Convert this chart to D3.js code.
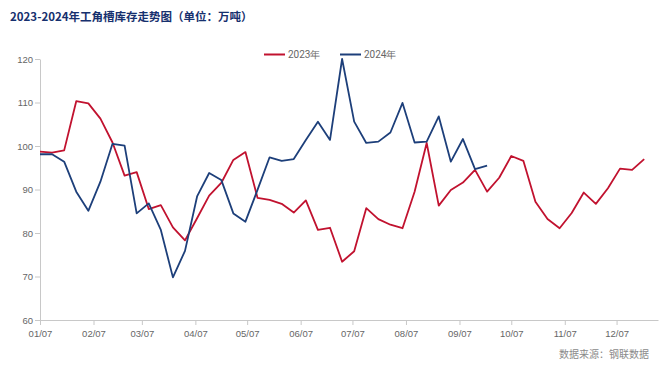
<!DOCTYPE html>
<html>
<head>
<meta charset="utf-8">
<script src="https://cdn.jsdelivr.net/npm/d3@7"></script>
<style>
  html, body { margin: 0; padding: 0; background: #fff; }
  svg { display: block; }
</style>
</head>
<body>
<div id="chart"></div>
<script>
// DATA
const seriesNames = ['2023年', '2024年'];
const firstWeek = '2023-01-07';
const lastDay = '2023-12-31';
const tickMonths = ['01/07', '02/07', '03/07', '04/07', '05/07', '06/07', '07/07', '08/07', '09/07', '10/07', '11/07', '12/07'];
const yTicks = [60, 70, 80, 90, 100, 110, 120];

const v2023 = [
  98.7, 98.5, 99.0, 110.3, 109.8, 106.3, 100.8, 93.2, 94.0, 85.5,
  86.4, 81.3, 78.3, 83.4, 88.6, 91.5, 96.8, 98.6, 88.1, 87.6,
  86.7, 84.7, 87.5, 80.7, 81.2, 73.4, 75.8, 85.7, 83.2, 81.9,
  81.1, 89.5, 100.7, 86.3, 89.9, 91.6, 94.5, 89.5, 92.7, 97.7,
  96.6, 87.2, 83.2, 81.1, 84.6, 89.3, 86.7, 90.3, 94.8, 94.5,
  97.0
];
const v2024 = [
  98.1, 98.1, 96.4, 89.5, 85.1, 91.8, 100.5, 100.1, 84.5, 86.8,
  80.7, 69.8, 75.9, 88.4, 93.8, 92.2, 84.5, 82.6, 89.9, 97.4,
  96.6, 97.0, 101.4, 105.6, 101.4, 120.0, 105.6, 100.7, 101.0, 103.1,
  109.9, 100.8, 101.0, 106.8, 96.4, 101.6, 94.7, 95.5
];

const colors = ['#c1122f', '#1d3f7a'];

const W = 660, H = 369;
const m = { top: 59, right: 2, bottom: 49, left: 40 };

const parse = d3.timeParse('%Y-%m-%d');
const t0 = parse(firstWeek);
const weekDate = (i) => d3.timeDay.offset(t0, i * 7);

const svg = d3.select('#chart').append('svg')
  .attr('width', W)
  .attr('height', H)
  .style('font-family', 'Roboto, "Liberation Sans", Arial, sans-serif');

// TITLE
svg.append('text')
  .attr('x', 10)
  .attr('y', 21)
  .attr('fill', '#16306e')
  .attr('font-size', 11.5)
  .attr('font-weight', 'bold')
  .style('font-family', '"Noto Sans CJK SC", sans-serif')
  .text('2023-2024年工角槽库存走势图（单位：万吨）');

// SCALES
const x = d3.scaleTime()
  .domain([t0, parse(lastDay)])
  .range([m.left, W - m.right]);

const y = d3.scaleLinear()
  .domain([60, 120])
  .range([H - m.bottom, m.top]);

const fmt = d3.timeFormat('%m/%d');
const tickDates = tickMonths.map((s) => parse('2023-' + s.replace('/', '-')));

// X AXIS
const xAxis = svg.append('g')
  .attr('transform', `translate(0,${H - m.bottom})`)
  .call(d3.axisBottom(x).tickValues(tickDates).tickFormat(fmt).tickSize(5).tickSizeOuter(0));
xAxis.select('.domain').attr('stroke', '#c8c8c8');
xAxis.selectAll('.tick line').attr('stroke', '#c8c8c8');
xAxis.selectAll('.tick text').attr('fill', '#666').attr('font-size', 9.5).attr('dy', '0.9em');

// Y AXIS
const yAxis = svg.append('g')
  .attr('transform', `translate(${m.left},0)`)
  .call(d3.axisLeft(y).tickValues(yTicks).tickSize(5).tickSizeOuter(0));
yAxis.select('.domain').attr('stroke', '#c8c8c8');
yAxis.selectAll('.tick line').attr('stroke', '#c8c8c8');
yAxis.selectAll('.tick text').attr('fill', '#666').attr('font-size', 9.5).attr('x', -7);

// LINES
const line = d3.line()
  .x((d, i) => x(weekDate(i)))
  .y((d) => y(d));

[v2023, v2024].forEach((vals, k) => {
  svg.append('path')
    .datum(vals)
    .attr('fill', 'none')
    .attr('stroke', colors[k])
    .attr('stroke-width', 1.8)
    .attr('stroke-linejoin', 'round')
    .attr('d', line);
});

// LEGEND
const lg = svg.append('g').attr('transform', 'translate(264,54.5)');
seriesNames.forEach((name, k) => {
  const g = lg.append('g').attr('transform', `translate(${k * 76},0)`);
  g.append('line')
    .attr('x1', 0).attr('x2', 21)
    .attr('stroke', colors[k])
    .attr('stroke-width', 2);
  g.append('text')
    .attr('x', 24)
    .attr('dy', '0.35em')
    .attr('fill', '#666')
    .attr('font-size', 10)
    .text(name);
});

// SOURCE
svg.append('text')
  .attr('x', 649)
  .attr('y', 358)
  .attr('text-anchor', 'end')
  .attr('fill', '#8a8a8a')
  .attr('font-size', 10)
  .style('font-family', '"Noto Sans CJK SC", sans-serif')
  .text('数据来源：钢联数据');
</script>
</body>
</html>
